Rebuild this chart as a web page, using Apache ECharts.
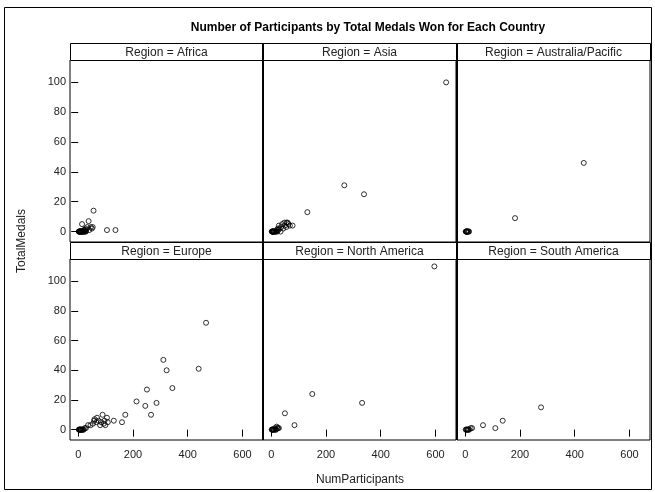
<!DOCTYPE html>
<html>
<head>
<meta charset="utf-8">
<script src="https://cdn.jsdelivr.net/npm/echarts@6/dist/echarts.min.js"></script>
<style>
  html, body { margin: 0; padding: 0; background: #fff; }
  #chart { width: 655px; height: 492px; }
</style>
</head>
<body>
<div id="chart"></div>
<script>
// panels, in reading order
var regions = ['Africa', 'Asia', 'Australia/Pacific', 'Europe', 'North America', 'South America'];
var xTicks = [0, 200, 400, 600];
var yTicks = [0, 20, 40, 60, 80, 100];

// [NumParticipants, TotalMedals]
var africa = [[2,0],[3,0],[4,0],[5,0],[6,0],[7,0],[8,0],[9,0],[10,0],[11,0],[12,0],[14,0],[15,0],[17,0],[18,0],[20,0],[22,0],[24,1],[26,0],[28,0],
  [14,5],[20,1],[27,2],[29,1],[33,3],[38,7],[40,1],[46,3],[50,2],[53,3],[56,14],[105,1],[136,1]];
var asia = [[2,0],[3,0],[4,0],[5,0],[6,0],[7,0],[8,0],[9,0],[10,0],[12,0],[14,0],[16,0],[18,0],[20,1],[22,0],[24,2],[26,1],[28,4],[30,2],[34,0],
  [36,3],[40,5],[44,2],[48,6],[50,4],[55,3],[56,6],[60,6],[63,5],[68,4],[78,4],[132,13],[267,31],[339,25],[639,100]];
var pacific = [[2,0],[3,0],[4,0],[5,0],[6,0],[7,0],[8,0],[10,0],[12,0],[14,0],[182,9],[433,46]];
var europe = [[2,0],[4,0],[5,0],[6,0],[8,0],[9,0],[10,0],[12,0],[14,0],[16,0],[18,0],[20,0],[24,1],[28,1],[36,3],[45,3],[54,4],[58,6],
  [60,7],[66,5],[69,8],[74,6],[80,3],[84,5],[89,10],[93,4],[96,6],[99,3],[105,8],[108,5],[130,6],[160,5],[172,10],[213,19],[245,16],
  [251,27],[266,10],[286,18],[311,47],[323,40],[344,28],[440,41],[467,72]];
var northAmerica = [[2,0],[3,0],[5,0],[6,0],[8,0],[10,0],[12,0],[14,1],[16,0],[18,0],[20,2],[22,1],[25,1],[28,1],
  [50,11],[85,3],[150,24],[332,18],[596,110]];
var southAmerica = [[2,0],[4,0],[6,0],[8,0],[10,0],[12,0],[15,0],[20,1],[25,1],[65,3],[110,1],[137,6],[277,15]];

var panelData = [africa, asia, pacific, europe, northAmerica, southAmerica];

var colLeft = [70, 263, 457];
var colWidth = 193;
var rowHeaderTop = [43, 242];
var rowPlotTop = [60, 259];
var rowPlotHeight = [182, 181];
var headerH = 17;

var font = 'Liberation Sans, Arial, sans-serif';
var grids = [], xAxes = [], yAxes = [], series = [], graphics = [];

for (var i = 0; i < 6; i++) {
  var r = Math.floor(i / 3), c = i % 3;
  grids.push({
    left: colLeft[c], top: rowPlotTop[r], width: colWidth, height: rowPlotHeight[r],
    show: true, borderColor: '#000', borderWidth: 1, backgroundColor: '#fff'
  });
  xAxes.push({
    type: 'value', gridIndex: i, min: -30, max: 675,
    axisLine: { show: false },
    splitLine: { show: false },
    axisTick: { show: r === 1, length: 7, lineStyle: { color: '#000' }, customValues: xTicks },
    axisLabel: { show: r === 1, customValues: xTicks, margin: 9, fontSize: 11, color: '#222', fontFamily: font }
  });
  yAxes.push({
    type: 'value', gridIndex: i, min: -7, max: 115,
    axisLine: { show: false },
    splitLine: { show: false },
    axisTick: { show: c === 0, length: 7, lineStyle: { color: '#000' }, customValues: yTicks },
    axisLabel: { show: c === 0, customValues: yTicks, margin: 4, fontSize: 11, color: '#222', fontFamily: font }
  });
  series.push({
    type: 'scatter', xAxisIndex: i, yAxisIndex: i,
    data: panelData[i], symbol: 'circle', symbolSize: 5,
    itemStyle: { color: 'rgba(0,0,0,0)', borderColor: '#000', borderWidth: 1 },
    silent: true
  });
  graphics.push({
    type: 'rect',
    shape: { x: colLeft[c] + 0.5, y: rowHeaderTop[r] + 0.5, width: colWidth, height: headerH },
    style: { fill: '#fff', stroke: '#000', lineWidth: 1 }
  });
  graphics.push({
    type: 'text',
    x: colLeft[c] + colWidth / 2, y: rowHeaderTop[r] + headerH / 2 + 1,
    style: { text: 'Region = ' + regions[i], fontSize: 12, fontFamily: font, fill: '#222',
             textAlign: 'center', textVerticalAlign: 'middle' }
  });
}

// heavier dividers between columns, outer frame, axis titles
[263, 457].forEach(function (x) {
  graphics.push({ type: 'line', shape: { x1: x, y1: 43, x2: x, y2: 440 }, style: { stroke: '#000', lineWidth: 2 } });
});
graphics.push({ type: 'rect', shape: { x: 4.5, y: 7.5, width: 647, height: 482 }, style: { fill: null, stroke: '#000', lineWidth: 1 } });
graphics.push({
  type: 'text', x: 360, y: 480,
  style: { text: 'NumParticipants', fontSize: 12, fontFamily: font, fill: '#222', textAlign: 'center', textVerticalAlign: 'middle' }
});
graphics.push({
  type: 'text', x: 22, y: 241, rotation: Math.PI / 2,
  style: { text: 'TotalMedals', fontSize: 12, fontFamily: font, fill: '#222', textAlign: 'center', textVerticalAlign: 'middle' }
});

var chart = echarts.init(document.getElementById('chart'));
chart.setOption({
  animation: false,
  backgroundColor: '#fff',
  title: {
    text: 'Number of Participants by Total Medals Won for Each Country',
    left: 363, top: 17, textAlign: 'center',
    textStyle: { fontSize: 12, fontWeight: 'bold', color: '#000', fontFamily: font }
  },
  grid: grids,
  xAxis: xAxes,
  yAxis: yAxes,
  series: series,
  graphic: graphics
});
</script>
</body>
</html>
